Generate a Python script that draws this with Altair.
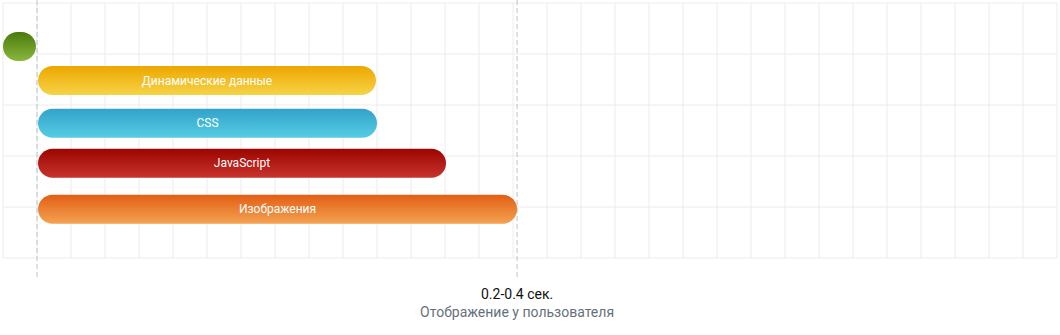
import altair as alt
import pandas as pd

# ---- data ----
bar_labels = ["", "Динамические данные", "CSS", "JavaScript", "Изображения"]
bar_starts = [0.0, 1.03, 1.03, 1.03, 1.03]
bar_ends = [0.97, 10.97, 11.0, 13.03, 15.12]
bar_rows = [0.853, 1.52, 2.36, 3.14, 4.045]
top_colors = ["#4a7a0c", "#eda700", "#33a2ca", "#9c0500", "#e35e14"]
bottom_colors = ["#8ab73e", "#f6d347", "#55cde3", "#c7332c", "#f3a352"]

marker_x = [1.0, 15.12]
milestone_x = [15.12]
milestone_value = ["0.2-0.4 сек."]
milestone_label = ["Отображение у пользователя"]

grid_x = list(range(0, 32))
grid_y = list(range(0, 6))

FONT = "Roboto"

xscale = alt.Scale(domain=[0, 31], nice=False, zero=False, padding=0)
yscale = alt.Scale(domain=[0, 5], reverse=True, nice=False, zero=False, padding=0)

bars_df = pd.DataFrame({"label": bar_labels, "start": bar_starts, "end": bar_ends,
                        "row": bar_rows})
bars_df["mid"] = (bars_df["start"] + bars_df["end"]) / 2

vgrid = alt.Chart(pd.DataFrame({"gx": grid_x})).mark_rule(
    color="#ececec", strokeWidth=1
).encode(
    x=alt.X("gx:Q", scale=xscale, axis=None),
)
hgrid = alt.Chart(pd.DataFrame({"gy": grid_y})).mark_rule(
    color="#ececec", strokeWidth=1
).encode(
    y=alt.Y("gy:Q", scale=yscale, axis=None),
)

rules = alt.Chart(pd.DataFrame({"x": marker_x})).mark_rule(
    color="#b4c6cd", strokeDash=[5, 3], strokeWidth=1
).encode(
    x=alt.X("x:Q", scale=xscale, axis=None),
    y=alt.value(-3),
    y2=alt.value(274),
)

layers = [vgrid, hgrid, rules]
for i in range(len(bar_labels)):
    grad = alt.Gradient(
        gradient="linear",
        stops=[alt.GradientStop(color=top_colors[i], offset=0),
               alt.GradientStop(color=bottom_colors[i], offset=1)],
        x1=0, x2=0, y1=0, y2=1,
    )
    layers.append(
        alt.Chart(bars_df.iloc[[i]]).mark_bar(
            color=grad, cornerRadius=14.5, height=29, orient="horizontal"
        ).encode(
            x=alt.X("start:Q", scale=xscale, axis=None),
            x2="end:Q",
            y=alt.Y("row:Q", scale=yscale, axis=None),
        )
    )

texts = alt.Chart(bars_df[bars_df["label"] != ""]).mark_text(
    color="white", fontSize=12, font=FONT, baseline="middle", align="center"
).encode(
    x=alt.X("mid:Q", scale=xscale, axis=None),
    y=alt.Y("row:Q", scale=yscale, axis=None),
    text="label:N",
)
layers.append(texts)

ms_df = pd.DataFrame({"x": milestone_x, "value": milestone_value, "label": milestone_label})
ms_value = alt.Chart(ms_df).mark_text(
    color="#111111", fontSize=14, font=FONT, baseline="alphabetic", align="center"
).encode(
    x=alt.X("x:Q", scale=xscale, axis=None),
    y=alt.value(296),
    text="value:N",
)
ms_label = alt.Chart(ms_df).mark_text(
    color="#66707b", fontSize=14, font=FONT, baseline="alphabetic", align="center"
).encode(
    x=alt.X("x:Q", scale=xscale, axis=None),
    y=alt.value(314),
    text="label:N",
)
layers += [ms_value, ms_label]

chart = alt.layer(*layers).resolve_scale(x="shared", y="shared").properties(
    width=1054, height=255,
    autosize=alt.AutoSizeParams(type="none"),
    padding={"left": 3, "top": 3, "right": 3, "bottom": 77},
    background="white",
).configure_view(stroke=None)

chart.save("out.html", embed_options={"renderer": "svg", "actions": False})
